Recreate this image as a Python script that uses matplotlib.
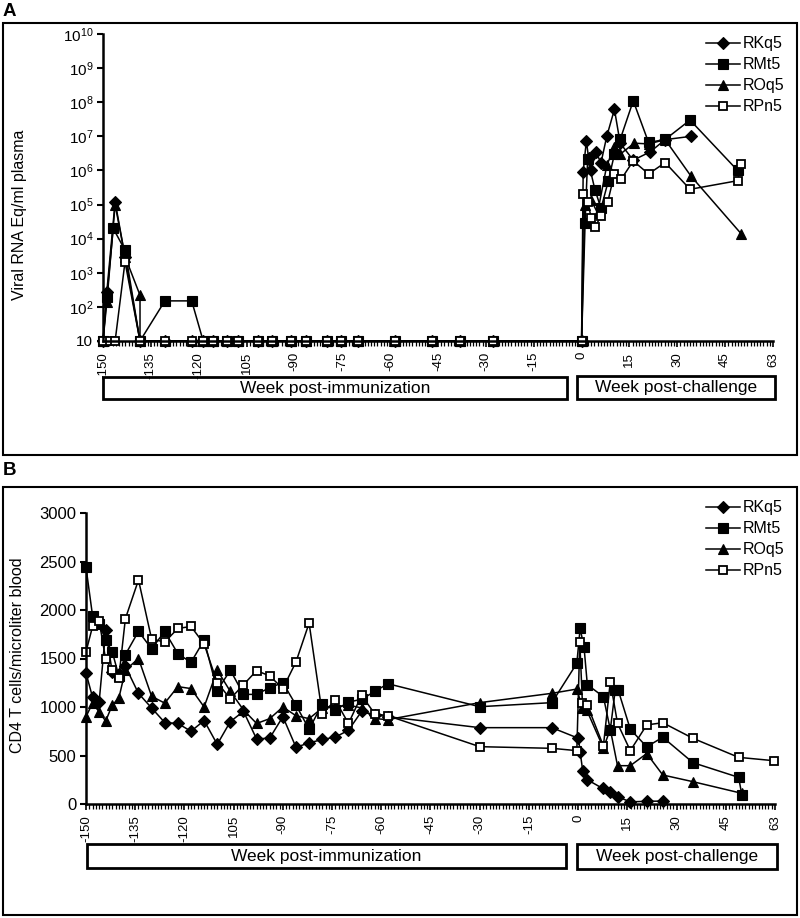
import matplotlib
matplotlib.use('Agg')
import matplotlib.pyplot as plt
from matplotlib.patches import Rectangle
from matplotlib.ticker import MultipleLocator, NullLocator

plt.rcParams['font.family'] = ['Liberation Sans', 'DejaVu Sans']
plt.rcParams['mathtext.default'] = 'regular'

# ---------------- data ----------------
series_names = ['RKq5', 'RMt5', 'ROq5', 'RPn5']
x_tick_labels = ['-150', '-135', '-120', '105', '-90', '-75', '-60', '-45',
                 '-30', '-15', '0', '15', '30', '45', '63']
x_tick_weeks = [-150, -135, -120, -105, -90, -75, -60, -45, -30, -15, 0, 15, 30, 45, 60]

# Panel A: viral RNA (Eq/ml plasma)
A_weeks_RKq5 = [-150, -148.8, -146.2, -143.1, -138.4,
                -130.6, -122.2, -118.6, -115.4, -111.2, -107.6, -101.3, -97.1, -91.2,
                -86.5, -79.9, -75.5, -70.2, -58.5, -47.0, -38.1, -27.8, 0.0,
                0.5, 1.5, 2.2, 3.0, 4.4, 6.1, 7.9, 10.3, 12.1, 16.2, 21.5, 26.2, 34.3]
A_vl_RKq5 = [10, 280, 1.2e5, 3.0e3, 10,
             10, 10, 10, 10, 10, 10, 10, 10, 10,
             10, 10, 10, 10, 10, 10, 10, 10, 10,
             9.0e5, 7.4e6, 2.3e6, 1.0e6, 3.5e6, 1.7e6, 1.0e7, 6.2e7, 6.3e6, 2.0e6, 3.5e6, 8.0e6, 1.0e7]

A_weeks_RMt5 = [-150, -148.8, -146.8, -143.1, -138.4,
                -130.6, -122.2, -118.6, -115.4, -111.2, -107.6, -101.3, -97.1, -91.2,
                -86.5, -79.9, -75.5, -70.2, -58.5, -47.0, -38.1, -27.8, 0.0,
                1.1, 1.9, 4.2, 6.1, 8.4, 10.3, 12.1, 16.2, 21.0, 26.2, 34.0, 48.9]
A_vl_RMt5 = [10, 200, 2.0e4, 4.6e3, 10,
             150, 150, 10, 10, 10, 10, 10, 10, 10,
             10, 10, 10, 10, 10, 10, 10, 10, 10,
             2.8e4, 2.2e6, 2.7e5, 7.7e4, 5.0e5, 3.0e6, 8.1e6, 1.1e8, 6.6e6, 8.1e6, 3.0e7, 1.0e6]

A_weeks_ROq5 = [-150, -148.8, -146.2, -143.1, -138.4, -138.4,
                -130.6, -122.2, -118.6, -115.4, -111.2, -107.6, -101.3, -97.1, -91.2,
                -86.5, -79.9, -75.5, -70.2, -58.5, -47.0, -38.1, -27.8, 0.0,
                1.0, 3.0, 5.0, 7.9, 10.3, 12.1, 16.5, 21.0, 26.2, 34.3, 50.0]
A_vl_ROq5 = [10, 140, 1.0e5, 3.0e3, 220, 10,
             10, 10, 10, 10, 10, 10, 10, 10, 10,
             10, 10, 10, 10, 10, 10, 10, 10, 10,
             1.0e5, 1.35e5, 5.7e4, 1.4e6, 5.0e6, 3.0e6, 6.3e6, 6.0e6, 8.0e6, 6.8e5, 1.4e4]

A_weeks_RPn5 = [-150, -147.8, -146.2, -143.1, -138.4,
                -130.6, -122.2, -118.6, -115.4, -111.2, -107.6, -101.3, -97.1, -91.2,
                -86.5, -79.9, -75.5, -70.2, -58.5, -47.0, -38.1, -27.8, 0.0,
                0.6, 2.0, 3.0, 4.2, 6.1, 8.2, 10.3, 12.4, 16.2, 21.0, 26.2, 34.0, 48.9, 50.0]
A_vl_RPn5 = [10, 10, 10, 2.1e3, 10,
             10, 10, 10, 10, 10, 10, 10, 10, 10,
             10, 10, 10, 10, 10, 10, 10, 10, 10,
             2.1e5, 1.2e5, 4.0e4, 2.2e4, 4.6e4, 1.2e5, 7.9e5, 5.5e5, 1.9e6, 7.9e5, 1.7e6, 2.8e5, 5.0e5, 1.5e6]

# Panel B: CD4 T cells / microliter blood
B_pre_weeks = [-150, -148, -146, -144, -142, -140, -138, -134, -130, -126, -122, -118, -114,
               -110, -106, -102, -98, -94, -90, -86, -82, -78, -74, -70, -66, -62, -58, -30, -8]
B_pre_RKq5 = [1350, 1100, 1050, 1790, 1360, 1340, 1420, 1140, 990, 840, 830, 750, 860,
              615, 850, 955, 670, 680, 900, 585, 630, 665, 690, 760, 955, 920, 900, 787, 787]
B_pre_RMt5 = [2440, 1940, 1860, 1690, 1570, 1320, 1540, 1780, 1600, 1780, 1550, 1460, 1690,
              1170, 1380, 1130, 1130, 1200, 1250, 1020, 770, 1030, 970, 1050, 1080, 1160, 1240, 1003, 1045]
B_pre_ROq5 = [900, 1040, 950, 855, 1020, 1090, 1380, 1500, 1110, 1040, 1210, 1190, 1000,
              1380, 1160, 970, 830, 880, 1000, 910, 880, 990, 1000, 1020, 990, 880, 870, 1045, 1141]
B_pre_RPn5 = [1570, 1830, 1890, 1490, 1380, 1300, 1910, 2310, 1700, 1670, 1810, 1830, 1650,
              1250, 1085, 1230, 1375, 1320, 1190, 1465, 1865, 930, 1070, 830, 1120, 930, 910, 591, 574]

B_post_weeks_RKq5 = [0.1, 0.6, 1.4, 2.8, 7.5, 9.8, 12.0, 15.9, 20.9, 25.8]
B_post_RKq5 = [677, 540, 340, 250, 160, 120, 75, 22, 28, 30]
B_post_weeks_RMt5 = [-0.4, 0.6, 1.8, 2.8, 7.7, 9.8, 11.3, 12.2, 15.9, 20.9, 25.8, 35.0, 48.9, 49.9]
B_post_RMt5 = [1450, 1810, 1615, 1230, 1106, 765, 1175, 1175, 770, 590, 688, 426, 275, 95]
B_post_weeks_ROq5 = [-0.4, 1.3, 2.6, 7.7, 9.8, 12.0, 15.9, 20.9, 25.8, 35.0, 49.9]
B_post_ROq5 = [1185, 990, 970, 577, 770, 395, 395, 520, 299, 230, 110]
B_post_weeks_RPn5 = [-0.4, 0.5, 1.3, 2.8, 7.7, 9.8, 12.0, 15.9, 20.9, 25.8, 35.0, 48.9, 59.8]
B_post_RPn5 = [550, 1670, 1040, 1020, 598, 1261, 832, 550, 815, 838, 677, 481, 446]

A_yticks = [1e1, 1e2, 1e3, 1e4, 1e5, 1e6, 1e7, 1e8, 1e9, 1e10]
A_ytick_labels = ['10', '$10^{2}$', '$10^{3}$', '$10^{4}$', '$10^{5}$', '$10^{6}$',
                  '$10^{7}$', '$10^{8}$', '$10^{9}$', '$10^{10}$']
B_yticks = [0, 500, 1000, 1500, 2000, 2500, 3000]

# ---------------- styling ----------------
W, H = 800, 918
fig = plt.figure(figsize=(W / 100, H / 100), dpi=100)
fig.patch.set_facecolor('white')


def fx(px):
    return px / W


def fy(py):
    return 1 - py / H


styles = {
    'RKq5': dict(marker='D', ms=6.4, mfc='black', mec='black', mew=0.8),
    'RMt5': dict(marker='s', ms=6.6, mfc='black', mec='black', mew=0.8),
    'ROq5': dict(marker='^', ms=7.8, mfc='black', mec='black', mew=0.8),
    'RPn5': dict(marker='s', ms=5.8, mfc='white', mec='black', mew=1.3),
}

A_data = {
    'RKq5': (A_weeks_RKq5, A_vl_RKq5),
    'RMt5': (A_weeks_RMt5, A_vl_RMt5),
    'ROq5': (A_weeks_ROq5, A_vl_ROq5),
    'RPn5': (A_weeks_RPn5, A_vl_RPn5),
}
B_data = {
    'RKq5': (B_pre_weeks + B_post_weeks_RKq5, B_pre_RKq5 + B_post_RKq5),
    'RMt5': (B_pre_weeks + B_post_weeks_RMt5, B_pre_RMt5 + B_post_RMt5),
    'ROq5': (B_pre_weeks + B_post_weeks_ROq5, B_pre_ROq5 + B_post_ROq5),
    'RPn5': (B_pre_weeks + B_post_weeks_RPn5, B_pre_RPn5 + B_post_RPn5),
}


def style_axes(ax, ytick_size):
    ax.set_xlim(-150, 60)
    ax.spines['top'].set_visible(False)
    ax.spines['right'].set_visible(False)
    ax.spines['left'].set_linewidth(1.8)
    ax.spines['bottom'].set_linewidth(1.8)
    ax.set_xticks(x_tick_weeks)
    ax.set_xticklabels(x_tick_labels, rotation=90, fontsize=9.5)
    ax.xaxis.set_minor_locator(MultipleLocator(1))
    ax.tick_params(axis='x', which='major', direction='out', length=4, width=1.2, pad=4)
    ax.tick_params(axis='x', which='minor', direction='out', length=3.5, width=0.9)
    ax.tick_params(axis='y', which='major', direction='out', length=4, width=1.5,
                   labelsize=ytick_size, pad=3)
    ax.yaxis.set_minor_locator(NullLocator())


def add_box(x0, y0, x1, y1, text):
    fig.add_artist(Rectangle((fx(x0), fy(y1)), fx(x1) - fx(x0), (y1 - y0) / H,
                             transform=fig.transFigure, fill=False, lw=2.0,
                             edgecolor='black'))
    fig.text(fx((x0 + x1) / 2), fy((y0 + y1) / 2), text, ha='center', va='center',
             fontsize=12.5)


# panel frames
fig.add_artist(Rectangle((fx(3), fy(455)), fx(797) - fx(3), (455 - 23) / H,
                         transform=fig.transFigure, fill=False, lw=1.5, edgecolor='black'))
fig.add_artist(Rectangle((fx(3), fy(915)), fx(797) - fx(3), (915 - 487) / H,
                         transform=fig.transFigure, fill=False, lw=1.5, edgecolor='black'))
fig.text(fx(3), fy(11), 'A', fontsize=13.5, fontweight='bold', ha='left', va='center')
fig.text(fx(3), fy(471), 'B', fontsize=13.5, fontweight='bold', ha='left', va='center')

legend_kw = dict(loc='upper right', bbox_transform=fig.transFigure, frameon=False,
                 fontsize=11.5, handlelength=2.1, handletextpad=0.2,
                 labelspacing=0.38, borderpad=0.2)

# ---- Panel A ----
axA = fig.add_axes([fx(103), fy(341), fx(773) - fx(103), (341 - 34) / H])
for name in series_names:
    xs, ys = A_data[name]
    axA.plot(xs, ys, color='black', lw=1.1, label=name, clip_on=False, **styles[name])
axA.set_yscale('log')
axA.set_ylim(10, 1e10)
style_axes(axA, 11)
axA.set_yticks(A_yticks)
axA.set_yticklabels(A_ytick_labels)
axA.yaxis.set_minor_locator(NullLocator())
axA.set_ylabel('Viral RNA Eq/ml plasma', fontsize=11.5)
axA.yaxis.set_label_coords((27 - 103) / 670, 0.41)
axA.legend(bbox_to_anchor=(fx(796), fy(25)), **legend_kw)
add_box(103, 377, 567, 399, 'Week post-immunization')
add_box(577, 376, 775, 399, 'Week post-challenge')

# ---- Panel B ----
axB = fig.add_axes([fx(86), fy(804), fx(775) - fx(86), (804 - 513) / H])
for name in series_names:
    xs, ys = B_data[name]
    axB.plot(xs, ys, color='black', lw=1.1, label=name, clip_on=False, **styles[name])
axB.set_ylim(0, 3000)
style_axes(axB, 12)
axB.set_yticks(B_yticks)
axB.set_ylabel('CD4 T cells/microliter blood', fontsize=11.5)
axB.yaxis.set_label_coords((25 - 86) / 689, 0.51)
axB.legend(bbox_to_anchor=(fx(796), fy(489)), **legend_kw)
add_box(87, 844, 566, 868, 'Week post-immunization')
add_box(577, 844, 777, 869, 'Week post-challenge')

fig.savefig('out.png', dpi=100, facecolor='white')
